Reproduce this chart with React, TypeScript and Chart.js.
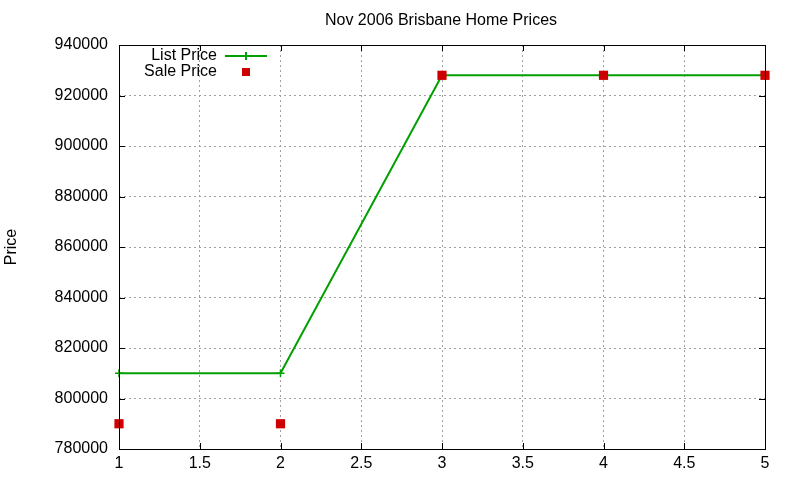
import React, { useEffect, useRef } from "react";
import { Chart, registerables } from "chart.js";

Chart.register(...registerables);

const xValues = [1, 2, 3, 4, 5];
const listPrice = [810000, 810000, 928000, 928000, 928000];
const salePrice = [790000, 790000, 928000, 928000, 928000];
const titleText = "Nov 2006 Brisbane Home Prices";
const yTitle = "Price";
const seriesNames = ["List Price", "Sale Price"];

const GREEN = "#00a000";
const RED = "#cc0000";
const FONT = "'Liberation Sans', Arial, sans-serif";

const decorPlugin = {
  id: "decor",
  afterDraw(chart: any) {
    const { ctx, chartArea } = chart;
    const { left, right, top, bottom } = chartArea;
    ctx.save();
    // border
    ctx.strokeStyle = "#000";
    ctx.lineWidth = 1;
    ctx.setLineDash([]);
    ctx.strokeRect(Math.round(left) + 0.5, Math.round(top) + 0.5, Math.round(right - left), Math.round(bottom - top));
    // inner ticks
    const xs = chart.scales.x;
    const ys = chart.scales.y;
    const tl = 6;
    ctx.beginPath();
    xs.ticks.forEach((t: any) => {
      const px = Math.round(xs.getPixelForValue(t.value)) + 0.5;
      ctx.moveTo(px, bottom);
      ctx.lineTo(px, bottom - tl);
      ctx.moveTo(px, top);
      ctx.lineTo(px, top + tl);
    });
    ys.ticks.forEach((t: any) => {
      const py = Math.round(ys.getPixelForValue(t.value)) + 0.5;
      ctx.moveTo(left, py);
      ctx.lineTo(left + tl, py);
      ctx.moveTo(right, py);
      ctx.lineTo(right - tl, py);
    });
    ctx.stroke();
    // title
    ctx.fillStyle = "#000";
    ctx.font = `16px ${FONT}`;
    ctx.textAlign = "center";
    ctx.textBaseline = "middle";
    ctx.fillText(titleText, 441, 21);
    // y title
    ctx.save();
    ctx.translate(12, 247);
    ctx.rotate(-Math.PI / 2);
    ctx.fillText(yTitle, 0, 0);
    ctx.restore();
    // legend
    ctx.textAlign = "right";
    ctx.fillText(seriesNames[0], 217, 56);
    ctx.fillText(seriesNames[1], 217, 72);
    ctx.strokeStyle = GREEN;
    ctx.lineWidth = 2;
    ctx.beginPath();
    ctx.moveTo(225, 56);
    ctx.lineTo(267, 56);
    ctx.moveTo(246, 52);
    ctx.lineTo(246, 60);
    ctx.stroke();
    ctx.fillStyle = RED;
    ctx.fillRect(242, 68, 8, 8);
    ctx.restore();
  },
};

export default function App() {
  const ref = useRef<HTMLCanvasElement>(null);
  useEffect(() => {
    if (!ref.current) return;
    const chart = new Chart(ref.current, {
      type: "line",
      data: {
        datasets: [
          {
            label: seriesNames[1],
            data: xValues.map((x, i) => ({ x, y: salePrice[i] })),
            showLine: false,
            pointStyle: "rect",
            pointRadius: 6.5,
            backgroundColor: RED,
            borderColor: RED,
            borderWidth: 0,
            order: 0,
            clip: false,
          },
          {
            label: seriesNames[0],
            data: xValues.map((x, i) => ({ x, y: listPrice[i] })),
            borderColor: GREEN,
            backgroundColor: GREEN,
            borderWidth: 2,
            pointStyle: "cross",
            pointRadius: 4,
            pointBorderWidth: 1.5,
            tension: 0,
            order: 1,
            clip: false,
          },
        ],
      },
      options: {
        animation: false,
        responsive: false,
        layout: { padding: { top: 45, right: 35, left: 0, bottom: 0 } },
        plugins: { legend: { display: false }, tooltip: { enabled: false }, title: { display: false } },
        scales: {
          x: {
            type: "linear",
            min: 1,
            max: 5,
            ticks: { stepSize: 0.5, color: "#000", font: { family: FONT, size: 16 }, padding: 5, callback: (v: any) => String(v) },
            grid: { color: "#a0a0a0", lineWidth: 1, drawTicks: false },
            border: { display: false, dash: [2, 3] },
            afterFit: (s: any) => { s.height = 31; },
          },
          y: {
            min: 780000,
            max: 940000,
            ticks: { stepSize: 20000, color: "#000", font: { family: FONT, size: 16 }, padding: 11, callback: (v: any) => String(v) },
            grid: { color: "#a0a0a0", lineWidth: 1, drawTicks: false },
            border: { display: false, dash: [2, 3] },
            afterFit: (s: any) => { s.width = 119; },
          },
        },
      },
      plugins: [decorPlugin],
    } as any);
    return () => chart.destroy();
  }, []);
  return (
    <div style={{ position: "fixed", left: 0, top: 0, width: 800, height: 480, background: "#fff" }}>
      <canvas ref={ref} width={800} height={480} style={{ width: 800, height: 480 }} />
    </div>
  );
}
